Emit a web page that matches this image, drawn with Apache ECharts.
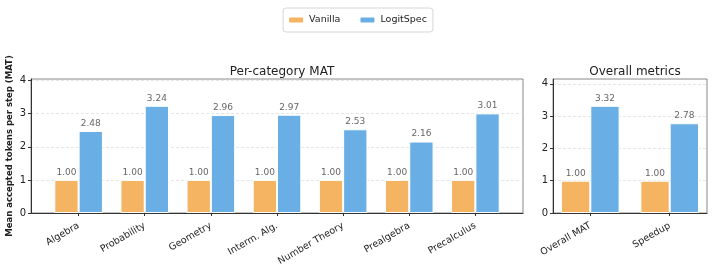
<!DOCTYPE html>
<html>
<head>
<meta charset="utf-8">
<script src="https://cdn.jsdelivr.net/npm/echarts@6/dist/echarts.min.js"></script>
<style>
html,body{margin:0;padding:0;background:#fff;}
#c{width:714px;height:268px;}
</style>
</head>
<body>
<div id="c"></div>
<script>
const catLeft = ['Algebra','Probability','Geometry','Interm. Alg.','Number Theory','Prealgebra','Precalculus'];
const vanillaLeft = [1.00,1.00,1.00,1.00,1.00,1.00,1.00];
const logitLeft = [2.48,3.24,2.96,2.97,2.53,2.16,3.01];
const catRight = ['Overall MAT','Speedup'];
const vanillaRight = [1.00,1.00];
const logitRight = [3.32,2.78];
const yTicks = [0,1,2,3,4];
const seriesNames = ['Vanilla','LogitSpec'];

const FONT = 'DejaVu Sans';
const ORANGE = '#F5B462';
const BLUE = '#69AEE5';

function pts(vals){ return vals.map((v,i)=>[i,v]); }

function xAxisFor(cats, gi, min, max){
  const idx = cats.map((_,i)=>i);
  return {
    type:'value', gridIndex:gi, min:min, max:max,
    axisLine:{show:true, onZero:false, lineStyle:{color:'#333', width:1}},
    axisTick:{show:true, customValues:idx, length:3, lineStyle:{color:'#333'}},
    axisLabel:{customValues:idx, rotate:30, fontFamily:FONT, fontSize:9.5, color:'#222', margin:12,
      formatter:(v)=>cats[Math.round(v)]},
    splitLine:{show:false}
  };
}
function yAxisFor(gi, max, withName){
  const a = {
    type:'value', gridIndex:gi, min:0, max:max, interval:1,
    axisLine:{show:true, onZero:false, lineStyle:{color:'#333', width:1}},
    axisTick:{show:true, customValues:yTicks, length:3, lineStyle:{color:'#333'}},
    axisLabel:{customValues:yTicks, fontFamily:FONT, fontSize:10, color:'#222', margin:5},
    splitLine:{show:true, lineStyle:{color:'#dedede', type:[3,2], width:0.8}}
  };
  if(withName){
    a.name = 'Mean accepted tokens per step (MAT)';
    a.nameLocation = 'middle';
    a.nameGap = 17;
    a.nameMoveOverlap = false;
    a.nameTextStyle = {fontFamily:FONT, fontSize:8.5, fontWeight:'bold', color:'#222'};
  }
  return a;
}
function barSeries(name, vals, color, xi, bw){
  return {
    type:'bar', name:name, xAxisIndex:xi, yAxisIndex:xi, data:pts(vals),
    barWidth:bw, barGap:'0%',
    itemStyle:{color:color, borderColor:'#fff', borderWidth:1},
    label:{show:true, position:'top', distance:3, fontFamily:FONT, fontSize:9, color:'#666',
      formatter:(p)=>p.value[1].toFixed(2)}
  };
}

const chart = echarts.init(document.getElementById('c'), null, {renderer:'canvas'});
chart.setOption({
  animation:false,
  backgroundColor:'#fff',
  textStyle:{fontFamily:FONT},
  title:[
    {text:'Per-category MAT', left:277, top:61, textAlign:'center',
     textStyle:{fontFamily:FONT, fontSize:12, fontWeight:'normal', color:'#222'}},
    {text:'Overall metrics', left:630, top:61, textAlign:'center',
     textStyle:{fontFamily:FONT, fontSize:12, fontWeight:'normal', color:'#222'}}
  ],
  legend:{
    data:seriesNames, top:8, left:'center',
    itemWidth:16, itemHeight:7, itemGap:18,
    textStyle:{fontFamily:FONT, fontSize:9.5, color:'#222'},
    borderColor:'#d6d6d6', borderWidth:1, borderRadius:3, padding:[7,6,7,4]
  },
  grid:[
    {left:31, right:191, top:79, bottom:55, show:true, borderColor:'#888', borderWidth:1, backgroundColor:'transparent', outerBoundsMode:'none', containLabel:false},
    {left:553, right:7, top:79, bottom:55, show:true, borderColor:'#888', borderWidth:1, backgroundColor:'transparent', outerBoundsMode:'none', containLabel:false}
  ],
  xAxis:[
    xAxisFor(catLeft, 0, -0.72, 6.72),
    xAxisFor(catRight, 1, -0.47, 1.47)
  ],
  yAxis:[
    yAxisFor(0, 4.05, true),
    yAxisFor(1, 4.15, false)
  ],
  series:[
    barSeries(seriesNames[0], vanillaLeft, ORANGE, 0, 24.3),
    barSeries(seriesNames[1], logitLeft, BLUE, 0, 24.3),
    barSeries(seriesNames[0], vanillaRight, ORANGE, 1, 29.3),
    barSeries(seriesNames[1], logitRight, BLUE, 1, 29.3)
  ]
});
</script>
</body>
</html>
